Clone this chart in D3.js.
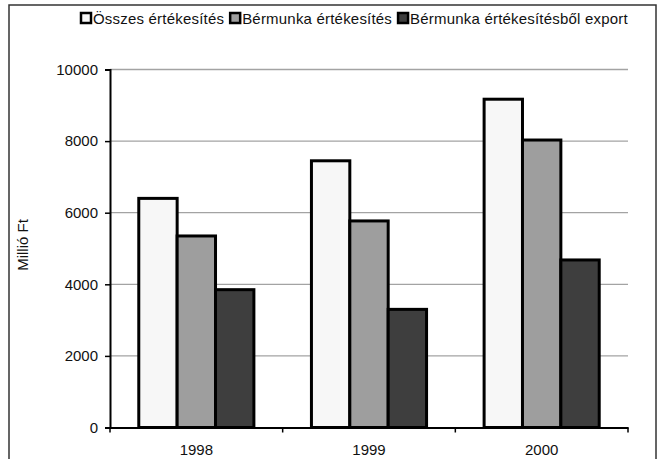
<!DOCTYPE html>
<html>
<head>
<meta charset="utf-8">
<script src="https://cdn.jsdelivr.net/npm/d3@7"></script>
<style>
  html, body { margin: 0; padding: 0; background: #fff; }
  svg { display: block; }
  text { font-family: "Liberation Sans", Arial, sans-serif; fill: #111; }
</style>
</head>
<body>
<svg id="chart" width="660" height="459"></svg>
<script>
// Sales figures, million HUF
const years = ["1998", "1999", "2000"];
const seriesNames = ["Összes értékesítés", "Bérmunka értékesítés", "Bérmunka értékesítésből export"];
const osszes = [6400, 7450, 9170];
const bermunka = [5350, 5770, 8030];
const bermunkaExport = [3850, 3300, 4680];
const yTicks = [0, 2000, 4000, 6000, 8000, 10000];
const seriesColors = ["#f7f7f7", "#9e9e9e", "#3e3e3e"];

const seriesValues = [osszes, bermunka, bermunkaExport];
const rows = years.map((y, i) => ({ year: y, values: seriesValues.map(s => s[i]) }));

const svg = d3.select("#chart");
const margin = { left: 110, right: 32, top: 69.5, bottom: 31.5 };
const W = 660, H = 459;
const FONT = 15;

// outer frame
svg.append("rect")
  .attr("x", 9).attr("y", 5)
  .attr("width", 647).attr("height", 470)
  .attr("fill", "none").attr("stroke", "#333").attr("stroke-width", 1.5);

const x = d3.scaleBand().domain(years).range([margin.left, W - margin.right]).paddingInner(0).paddingOuter(0);
const y = d3.scaleLinear().domain([0, 10000]).range([H - margin.bottom, margin.top]);

// group spans band / 1.5 (gap width 50%)
const groupW = x.bandwidth() / 1.5;
const xs = d3.scaleBand().domain(d3.range(seriesNames.length)).range([0, groupW]);

// gridlines
svg.append("g")
  .selectAll("line")
  .data(yTicks.filter(t => t > 0))
  .join("line")
  .attr("x1", margin.left).attr("x2", W - margin.right)
  .attr("y1", d => y(d)).attr("y2", d => y(d))
  .attr("stroke", "#a3a3a3").attr("stroke-width", 1.3);

// bars
const groups = svg.append("g")
  .selectAll("g")
  .data(rows)
  .join("g")
  .attr("transform", d => `translate(${x(d.year) + (x.bandwidth() - groupW) / 2},0)`);

groups.selectAll("rect")
  .data(d => d.values.map((v, i) => ({ v, i })))
  .join("rect")
  .attr("x", d => xs(d.i))
  .attr("width", xs.bandwidth())
  .attr("y", d => y(d.v))
  .attr("height", d => y(0) - y(d.v))
  .attr("fill", d => seriesColors[d.i])
  .attr("stroke", "#000")
  .attr("stroke-width", 3);

// y axis
const yAxis = svg.append("g")
  .attr("transform", `translate(${margin.left},0)`)
  .call(d3.axisLeft(y).tickValues(yTicks).tickSize(5).tickPadding(7).tickFormat(d3.format("d")));
yAxis.select(".domain").attr("stroke", "#000").attr("stroke-width", 2);
yAxis.selectAll(".tick line").attr("stroke", "#000").attr("stroke-width", 1.5);
yAxis.selectAll(".tick text").attr("font-size", FONT).attr("font-family", "Liberation Sans, Arial, sans-serif").attr("fill", "#111");

// x axis
const xAxis = svg.append("g")
  .attr("transform", `translate(0,${y(0)})`)
  .call(d3.axisBottom(x).tickSize(0).tickPadding(17));
xAxis.select(".domain").attr("stroke", "#000").attr("stroke-width", 2);
xAxis.selectAll(".tick text").attr("font-size", FONT).attr("font-family", "Liberation Sans, Arial, sans-serif").attr("fill", "#111");
// category separator ticks
svg.append("g")
  .selectAll("line")
  .data(years.map(yv => x(yv)).concat([x(years[years.length - 1]) + x.bandwidth()]))
  .join("line")
  .attr("x1", d => d).attr("x2", d => d)
  .attr("y1", y(0)).attr("y2", y(0) + 5)
  .attr("stroke", "#000").attr("stroke-width", 1.5);

// y axis title
svg.append("text")
  .attr("transform", `translate(28,245) rotate(-90)`)
  .attr("text-anchor", "middle")
  .attr("font-size", FONT)
  .text("Millió Ft");

// legend
const legend = svg.append("g");
let lx = 80;
seriesNames.forEach((name, i) => {
  legend.append("rect")
    .attr("x", lx + 1).attr("y", 13)
    .attr("width", 10).attr("height", 10)
    .attr("fill", seriesColors[i]).attr("stroke", "#000").attr("stroke-width", 2.5);
  const t = legend.append("text")
    .attr("x", lx + 13).attr("y", 24)
    .attr("font-size", FONT)
    .attr("letter-spacing", 0.2)
    .text(name);
  lx += 13 + t.node().getComputedTextLength() + 5;
});
</script>
</body>
</html>
